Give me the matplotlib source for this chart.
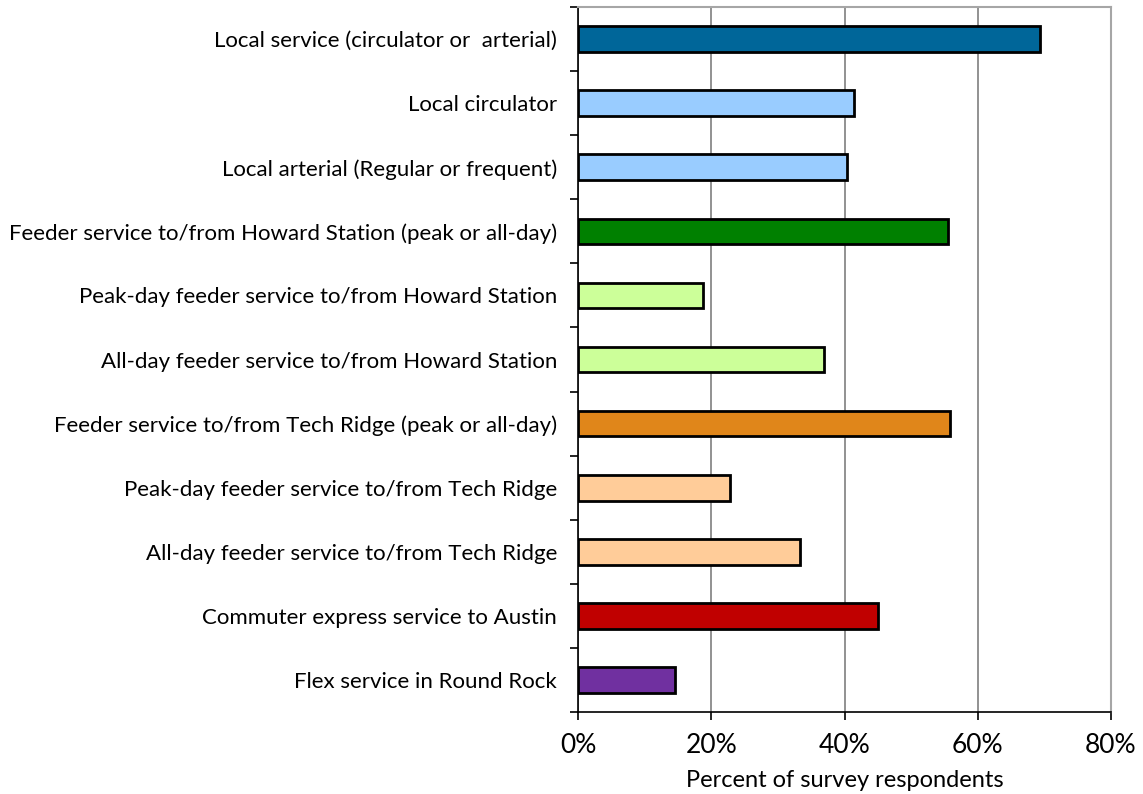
import matplotlib
matplotlib.use("Agg")
import matplotlib.pyplot as plt
from matplotlib.ticker import FuncFormatter, MultipleLocator
import numpy as np

categories = [
    "Local service (circulator or  arterial)",
    "Local circulator",
    "Local arterial (Regular or frequent)",
    "Feeder service to/from Howard Station (peak or all-day)",
    "Peak-day feeder service to/from Howard Station",
    "All-day feeder service to/from Howard Station",
    "Feeder service to/from Tech Ridge (peak or all-day)",
    "Peak-day feeder service to/from Tech Ridge",
    "All-day feeder service to/from Tech Ridge",
    "Commuter express service to Austin",
    "Flex service in Round Rock",
]
percent_values = [69.3, 41.4, 40.4, 55.5, 18.8, 36.9, 55.8, 22.8, 33.3, 45.0, 14.6]
bar_colors = [
    "#006699", "#99CCFF", "#99CCFF",
    "#008000", "#CCFF99", "#CCFF99",
    "#E0861A", "#FFCC99", "#FFCC99",
    "#C00000", "#7030A0",
]

plt.rcParams["font.family"] = ["Lato", "DejaVu Sans"]

fig = plt.figure(figsize=(11.43, 7.94), dpi=100)
ax = fig.add_axes([578 / 1143, 1 - 712 / 794, (1111 - 578) / 1143, (712 - 7) / 794])

y = np.arange(len(categories))
ax.barh(y, percent_values, height=0.4, color=bar_colors,
        edgecolor="black", linewidth=2, zorder=3)

ax.set_xlim(0, 80)
ax.set_ylim(len(categories) - 0.5, -0.5)
ax.xaxis.set_major_locator(MultipleLocator(20))
ax.xaxis.set_major_formatter(FuncFormatter(lambda v, _: f"{v:.0f}%"))
ax.grid(axis="x", color="#7f7f7f", linewidth=1.2, zorder=0)

# category labels centred on bars, ticks at category boundaries
ax.set_yticks(y)
ax.set_yticklabels(categories, fontsize=16)
ax.tick_params(axis="y", which="major", length=0, pad=15)
ax.set_yticks(np.arange(-0.5, len(categories) + 0.5, 1), minor=True)
ax.tick_params(axis="y", which="minor", length=6, width=1.2, direction="out")
ax.tick_params(axis="x", length=6, width=1.2, direction="out", labelsize=19, pad=9)

for side in ("top", "right"):
    ax.spines[side].set_color("#a6a6a6")
    ax.spines[side].set_linewidth(1.5)
for side in ("left", "bottom"):
    ax.spines[side].set_color("black")
    ax.spines[side].set_linewidth(1.2)

ax.set_xlabel("Percent of survey respondents", fontsize=17, labelpad=9)

fig.savefig("out.png", dpi=100)
